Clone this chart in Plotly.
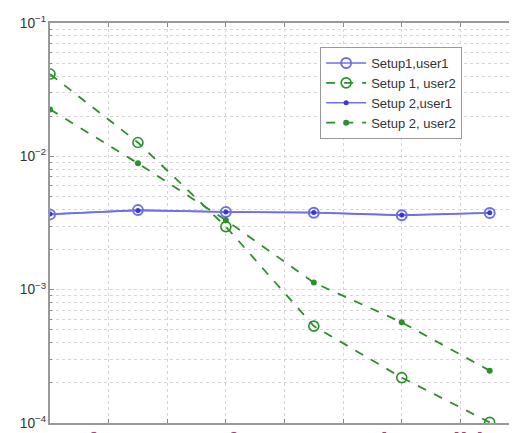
import plotly.graph_objects as go

x_vals = [0, 3, 6, 9, 12, 15]
s1_user1 = [3.67e-3, 3.95e-3, 3.82e-3, 3.78e-3, 3.61e-3, 3.76e-3]
s1_user2 = [4.14e-2, 1.27e-2, 2.97e-3, 5.33e-4, 2.19e-4, 1.01e-4]
s2_user1 = [3.69e-3, 3.93e-3, 3.83e-3, 3.79e-3, 3.63e-3, 3.77e-3]
s2_user2 = [2.25e-2, 8.87e-3, 3.32e-3, 1.13e-3, 5.69e-4, 2.47e-4]
names = ["Setup1,user1", "Setup 1, user2", "Setup 2,user1", "Setup 2, user2"]

blue = "#6f6fe6"
green = "#2b8f2b"

fig = go.Figure()
fig.add_trace(go.Scatter(x=x_vals, y=s1_user1, name=names[0], mode="lines+markers",
                         line=dict(color=blue, width=1.6),
                         marker=dict(symbol="circle-open", size=10, color=blue, line=dict(width=2))))
fig.add_trace(go.Scatter(x=x_vals, y=s1_user2, name=names[1], mode="lines+markers",
                         line=dict(color=green, width=1.8, dash="dash"),
                         marker=dict(symbol="circle-open", size=10, color=green, line=dict(width=1.6))))
fig.add_trace(go.Scatter(x=x_vals, y=s2_user1, name=names[2], mode="lines+markers",
                         line=dict(color=blue, width=1.6),
                         marker=dict(symbol="circle", size=5, color="#3a3ac8")))
fig.add_trace(go.Scatter(x=x_vals, y=s2_user2, name=names[3], mode="lines+markers",
                         line=dict(color=green, width=1.8, dash="dash"),
                         marker=dict(symbol="circle", size=6, color=green)))

gcol = "#d6d6d6"
fig.update_layout(
    width=517, height=433,
    margin=dict(l=42, r=6, t=15, b=18, autoexpand=False),
    paper_bgcolor="white", plot_bgcolor="white",
    font=dict(family="Liberation Sans, Arial, sans-serif", size=11, color="#333"),
    legend=dict(x=0.576, y=0.94, xanchor="left", yanchor="top",
                bgcolor="white", bordercolor="#999", borderwidth=1,
                font=dict(size=13, color="#333"), tracegroupgap=0,
                itemwidth=40),
    xaxis=dict(range=[0, 16], dtick=2, showticklabels=False, automargin=False,
               showgrid=True, gridcolor=gcol, griddash="dot", gridwidth=1,
               ticks="inside", ticklen=4, tickcolor="#888",
               showline=True, linecolor="#999", linewidth=1.5, mirror="ticks",
               zeroline=False),
    yaxis=dict(type="log", range=[-4, -1], dtick=1, exponentformat="power", automargin=False,
               showgrid=True, gridcolor=gcol, griddash="dot", gridwidth=1,
               ticks="inside", ticklen=4, tickcolor="#888",
               minor=dict(dtick="D1", showgrid=True, gridcolor=gcol, griddash="dot",
                          ticks="inside", ticklen=2, tickcolor="#888"),
               showline=True, linecolor="#999", linewidth=1.5,
               zeroline=False, tickfont=dict(size=11, color="#333")),
    showlegend=True,
)

fig.add_annotation(text="<b>performance of system under Solid</b>", xref="paper", yref="paper",
                   x=-0.01, y=-0.005, xanchor="left", yanchor="top", showarrow=False,
                   font=dict(size=26, color="#c0307a", family="Liberation Sans, Arial, sans-serif"))

fig.write_html("out.html")
